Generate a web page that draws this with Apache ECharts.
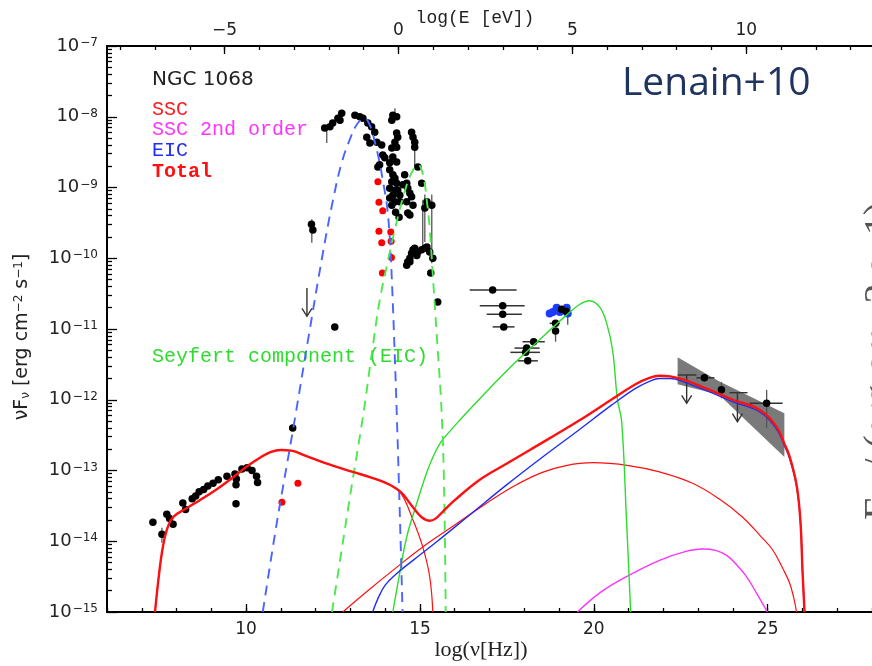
<!DOCTYPE html>
<html>
<head>
<meta charset="utf-8">
<script src="https://cdn.jsdelivr.net/npm/echarts/dist/echarts.min.js"></script>
<style>
html,body{margin:0;padding:0;background:#fff;}
#chart{width:872px;height:666px;}
</style>
</head>
<body>
<div id="chart"></div>
<script>
// ---------- axes ----------
const E_SHIFT = 14.383;              // log(E[eV]) = log(nu[Hz]) - 14.383
const xMin = 6, xMax = 28, yMin = -15, yMax = -7;
const bottomLabels = [10, 15, 20, 25];
const topLabels = [-5, 0, 5, 10];
const xMinorTicks = [];
for (let v = 6; v <= 28; v++) xMinorTicks.push(v);
const topMinorTicks = [];
for (let v = -8; v <= 13; v++) topMinorTicks.push(v);
const yMinorTicks = [];
for (let d = -15; d < -7; d++) for (let k = 2; k <= 9; k++) yMinorTicks.push(d + Math.log10(k));

// ---------- model curves: [log nu, log nuFnu] ----------
const totalCurve = [
  [7.38,-15],[7.5,-14.45],[7.6,-14.1],[7.72,-13.84],[7.9,-13.66],[8.3,-13.53],[8.67,-13.42],[9.2,-13.25],
  [9.62,-13.1],[10.0,-12.95],[10.4,-12.82],[10.7,-12.74],[11.0,-12.71],[11.3,-12.72],[11.7,-12.79],
  [12.3,-12.9],[13.07,-13.02],[13.6,-13.1],[14.05,-13.18],[14.3,-13.25],[14.5,-13.33],[14.8,-13.52],
  [15.05,-13.66],[15.28,-13.71],[15.45,-13.68],[15.66,-13.58],[16.0,-13.42],[16.72,-13.13],[17.5,-12.9],
  [18.16,-12.71],[19.59,-12.29],[20.5,-12.0],[21.2,-11.78],[21.6,-11.69],[21.89,-11.66],[22.2,-11.67],
  [22.6,-11.72],[23.33,-11.86],[24.0,-12.0],[24.76,-12.14],[25.25,-12.38],[25.48,-12.62],[25.63,-12.8],
  [25.83,-13.2],[25.94,-13.7],[26.0,-14.4],[26.06,-15]
];
const synchCurve = [
  [7.38,-15],[7.5,-14.45],[7.6,-14.1],[7.72,-13.84],[7.9,-13.66],[8.3,-13.53],[8.67,-13.42],[9.2,-13.25],
  [9.62,-13.1],[10.0,-12.95],[10.4,-12.82],[10.7,-12.74],[11.0,-12.71],[11.3,-12.72],[11.7,-12.79],
  [12.3,-12.9],[13.07,-13.02],[13.6,-13.1],[14.05,-13.19],[14.42,-13.3],[14.8,-13.7],[15.08,-14.08],
  [15.28,-14.5],[15.37,-15]
];
const sscCurve = [
  [12.78,-15],[13.5,-14.7],[14.3,-14.38],[15.08,-14.08],[16.0,-13.77],[16.8,-13.5],[17.67,-13.23],
  [18.5,-13.03],[19.2,-12.93],[19.97,-12.89],[21.0,-12.93],[21.89,-13.02],[22.84,-13.18],[23.6,-13.4],
  [24.28,-13.66],[24.8,-13.93],[25.14,-14.12],[25.45,-14.4],[25.63,-14.59],[25.75,-14.8],[25.83,-15]
];
const ssc2Curve = [
  [19.53,-15],[20.2,-14.72],[20.94,-14.5],[21.89,-14.27],[22.6,-14.15],[23.13,-14.11],[23.5,-14.13],
  [23.82,-14.2],[24.1,-14.33],[24.39,-14.5],[24.7,-14.75],[24.99,-15]
];
const eicCurve = [
  [13.64,-15],[13.8,-14.8],[14.0,-14.62],[14.3,-14.47],[14.8,-14.27],[15.5,-14.0],[16.5,-13.6],
  [17.5,-13.2],[18.5,-12.82],[19.59,-12.42],[20.5,-12.08],[21.2,-11.84],[21.6,-11.74],[21.89,-11.7],
  [22.2,-11.7],[22.6,-11.75],[23.33,-11.89],[24.0,-12.03],[24.76,-12.17],[25.25,-12.41],[25.48,-12.65],
  [25.63,-12.83],[25.83,-13.22],[25.94,-13.72],[26.0,-14.42],[26.06,-15]
];
const eicDashCurve = [
  [10.48,-15],[10.88,-13.75],[11.34,-12.45],[11.8,-11.1],[12.2,-9.95],[12.49,-9.2],[12.75,-8.65],
  [13.0,-8.3],[13.2,-8.1],[13.4,-8.02],[13.56,-8.12],[13.7,-8.35],[13.84,-8.65],[13.95,-8.95],
  [14.05,-9.25],[14.13,-9.7],[14.2,-10.4],[14.27,-11.3],[14.34,-12.3],[14.42,-13.6],[14.5,-15]
];
const seyDashCurve = [
  [12.47,-15],[12.75,-14.12],[13.0,-13.33],[13.36,-12.24],[13.6,-11.4],[13.84,-10.6],[14.05,-10.1],
  [14.3,-9.55],[14.55,-9.08],[14.75,-8.8],[14.95,-8.68],[15.1,-8.85],[15.2,-9.2],[15.28,-9.57],
  [15.37,-10.24],[15.48,-11.06],[15.63,-12.24],[15.7,-13.4],[15.74,-15]
];
const seyCurve = [
  [14.22,-15],[14.4,-14.5],[14.62,-13.94],[14.91,-13.46],[15.2,-13.02],[15.4,-12.78],[15.6,-12.6],
  [15.85,-12.45],[16.14,-12.29],[16.5,-12.1],[17.0,-11.84],[17.58,-11.55],[18.4,-11.17],[19.22,-10.8],
  [19.6,-10.65],[19.88,-10.6],[20.17,-10.69],[20.37,-10.92],[20.54,-11.3],[20.68,-12.0],[20.8,-12.3],
  [20.94,-13.7],[21.06,-15]
];

// ---------- data points ----------
const blackPts = [
  [7.32,-13.73],[7.58,-13.9],[7.72,-13.62],[7.8,-13.68],[7.9,-13.76],[8.18,-13.46],[8.26,-13.55],
  [8.45,-13.4],[8.55,-13.36],[8.65,-13.3],[8.78,-13.27],[8.9,-13.22],[9.05,-13.18],[9.2,-13.13],
  [9.45,-13.08],[9.68,-13.05],[9.72,-13.12],[9.71,-13.2],[9.71,-13.47],[9.88,-12.98],[10.03,-12.96],
  [10.17,-13.0],[10.3,-13.08],[10.33,-13.17],
  [11.34,-12.4],[11.88,-9.52],[11.92,-9.6],[12.55,-10.97],
  [12.26,-8.16],[12.41,-8.14],[12.49,-8.09],[12.64,-8.02],[12.75,-7.95],[12.7,-8.05],
  [13.13,-7.98],[13.27,-8.0],[13.36,-8.02],[13.5,-8.09],[13.61,-8.14],[13.47,-8.29],[13.56,-8.37],
  [13.7,-8.22],[13.76,-8.36],[13.9,-8.4],[13.93,-8.54],[13.99,-8.58],[13.84,-8.68],[13.79,-8.71],
  [14.22,-7.98],[14.33,-8.0],[14.19,-8.05],
  [14.33,-8.23],[14.36,-8.29],[14.28,-8.36],[14.33,-8.43],[14.19,-8.44],[14.22,-8.57],[14.13,-8.65],
  [14.33,-8.64],[14.13,-8.75],[14.22,-8.82],[14.28,-8.87],[14.19,-8.92],[14.33,-8.94],[14.13,-9.01],
  [14.28,-9.04],[14.36,-9.04],[14.22,-9.11],[14.42,-9.11],[14.13,-9.15],[14.28,-9.2],[14.19,-9.25],
  [14.42,-9.2],[14.51,-8.96],[14.62,-8.94],[14.65,-9.01],[14.71,-9.08],[14.76,-9.13],[14.62,-9.2],
  [14.8,-9.25],[14.65,-9.36],[14.71,-9.39],[14.56,-8.82],[14.3,-9.35],[14.4,-9.42],
  [14.76,-8.22],[14.8,-8.29],[14.85,-8.36],[14.85,-8.43],[14.94,-8.71],[15.05,-8.94],[15.2,-9.2],
  [15.14,-9.29],[15.34,-9.25],[15.37,-10.0],[15.28,-9.91],
  [14.62,-10.1],[14.65,-10.05],[14.71,-10.0],[14.76,-9.93],[14.8,-9.88],[14.85,-9.86],[14.94,-9.91],
  [15.05,-9.88],[15.14,-9.86],[15.2,-9.84],[14.91,-9.96],[14.71,-10.05],
  [15.31,-10.21],[15.51,-10.62],
  [19.07,-10.72],[19.2,-10.75],
  [23.18,-11.69],[23.67,-11.86],[24.97,-12.05]
];
const redPts = [
  [11.03,-13.45],[11.49,-13.18],[13.79,-8.92],[13.82,-9.21],[13.93,-9.33],[13.82,-9.62],[13.9,-9.78],
  [13.92,-10.21],[14.16,-9.63],[14.17,-9.76],[14.18,-9.99]
];
const bluePts = [
  [18.73,-10.78],[18.82,-10.76],[18.93,-10.7],[19.02,-10.76],[19.1,-10.74],[19.22,-10.7],[19.25,-10.78]
];
// X-ray points with horizontal bars: [log nu, log nuFnu, lo, hi]
const xrayPts = [
  [17.09,-10.45,16.43,17.78],[17.38,-10.67,16.72,18.01],[17.38,-10.79,16.92,17.93],[17.41,-10.97,17.09,17.72],
  [18.27,-11.18,17.95,18.59],[18.07,-11.27,17.72,18.44],[18.04,-11.33,17.6,18.45],[18.1,-11.45,17.81,18.39],
  [18.9,-10.92,18.73,19.02],[18.9,-11.03,18.9,18.9]
];
// horizontal bars: [log nuFnu, lo, hi]
const hBars = [
  [-11.69,22.95,23.47],[-12.05,24.48,25.43],[-10.72,18.85,19.3]
];
// vertical bars: [log nu, lo, hi]
const vBars = [
  [7.58,-13.81,-14.02],[11.89,-9.45,-9.78],[12.32,-8.16,-8.37],[14.28,-7.88,-8.05],[14.85,-8.36,-8.71],
  [15.08,-9.18,-9.84],[15.34,-9.1,-10.07],[15.14,-9.1,-9.77],[18.9,-11.03,-11.18],[19.25,-10.7,-10.94],
  [23.67,-11.75,-11.98],[24.97,-11.86,-12.4],[23.18,-11.64,-11.74]
];
// upper limits: [log nu, top, arrow tip, bar lo, bar hi]
const upperLimits = [
  [11.75,-10.42,-10.82,11.75,11.75],
  [22.67,-11.65,-12.05,22.41,22.95],
  [24.13,-11.9,-12.31,23.9,24.42]
];
// Fermi bow-tie outline
const bowtie = [
  [22.41,-11.4],[23.6,-11.74],[25.48,-12.19],[25.48,-12.81],[23.6,-11.93],[22.41,-11.78]
];

const MINUS = '\u2212';
const RED = '#ff1010', BLUE = '#1f2ff0', GREEN = '#2edc2e', MAG = '#ff33ff';

const chart = echarts.init(document.getElementById('chart'), null, {renderer: 'canvas'});

function lineSeries(data, color, width, dashed) {
  return {
    type: 'line', data: data, xAxisIndex: 0, yAxisIndex: 0, showSymbol: false, symbol: 'none',
    smooth: 0.4, silent: true, animation: false,
    lineStyle: {color: color, width: width, type: dashed ? [10, 7] : 'solid'}
  };
}

const axisLineStyle = {color: '#000', width: 2};
const tickStyle = {color: '#000', width: 1.3};
const labelFont = {fontFamily: 'DejaVu Sans', fontSize: 17, color: '#222'};

const option = {
  animation: false,
  backgroundColor: '#fff',
  grid: {left: 107, top: 46, width: 766, height: 566, containLabel: false},
  xAxis: [
    {type: 'value', min: xMin, max: xMax, position: 'bottom', gridIndex: 0,
     axisLine: {show: true, onZero: false, lineStyle: axisLineStyle},
     axisTick: {show: true, inside: true, length: 4, customValues: xMinorTicks, lineStyle: tickStyle},
     axisLabel: Object.assign({customValues: bottomLabels, margin: 9}, labelFont),
     splitLine: {show: false}},
    {type: 'value', min: xMin, max: xMax, position: 'bottom', gridIndex: 0,
     axisLine: {show: false, onZero: false},
     axisTick: {show: true, inside: true, length: 8, customValues: bottomLabels, lineStyle: tickStyle},
     axisLabel: {show: false}, splitLine: {show: false}},
    {type: 'value', min: xMin - E_SHIFT, max: xMax - E_SHIFT, position: 'top', gridIndex: 0,
     axisLine: {show: true, onZero: false, lineStyle: axisLineStyle},
     axisTick: {show: true, inside: true, length: 4, customValues: topMinorTicks, lineStyle: tickStyle},
     axisLabel: Object.assign({customValues: topLabels, margin: 7,
       formatter: v => (v < 0 ? MINUS + Math.abs(v) : String(v))}, labelFont),
     splitLine: {show: false}},
    {type: 'value', min: xMin - E_SHIFT, max: xMax - E_SHIFT, position: 'top', gridIndex: 0,
     axisLine: {show: false, onZero: false},
     axisTick: {show: true, inside: true, length: 8, customValues: topLabels, lineStyle: tickStyle},
     axisLabel: {show: false}, splitLine: {show: false}}
  ],
  yAxis: [
    {type: 'value', min: yMin, max: yMax, interval: 1, position: 'left', gridIndex: 0,
     axisLine: {show: true, onZero: false, lineStyle: axisLineStyle},
     axisTick: {show: true, inside: true, length: 10, lineStyle: tickStyle},
     axisLabel: {margin: 9,
       formatter: v => '{b|10}{s|' + MINUS + Math.abs(v) + '}',
       rich: {
         b: {fontFamily: 'DejaVu Sans', fontSize: 18, color: '#222'},
         s: {fontFamily: 'DejaVu Sans', fontSize: 12, color: '#222', verticalAlign: 'top', padding: [0, 0, 0, 1]}
       }},
     splitLine: {show: false}},
    {type: 'value', min: yMin, max: yMax, position: 'left', gridIndex: 0,
     axisLine: {show: false, onZero: false},
     axisTick: {show: true, inside: true, length: 5, customValues: yMinorTicks, lineStyle: tickStyle},
     axisLabel: {show: false}, splitLine: {show: false}}
  ],
  series: [
    {type: 'custom', xAxisIndex: 0, yAxisIndex: 0, data: bowtie, encode: {x: 0, y: 1}, silent: true,
     renderItem: function (params, api) {
       if (params.dataIndex !== 0) return null;
       const pts = bowtie.map(p => api.coord(p));
       return {type: 'polygon', shape: {points: pts}, style: {fill: '#7a7a7a'}};
     }},
    lineSeries(synchCurve, RED, 1.2, false),
    lineSeries(sscCurve, RED, 1.2, false),
    lineSeries(ssc2Curve, MAG, 1.4, false),
    lineSeries(seyCurve, GREEN, 1.4, false),
    lineSeries(eicCurve, BLUE, 1.4, false),
    lineSeries(eicDashCurve, '#4a64ff', 1.9, true),
    lineSeries(seyDashCurve, '#4ee84e', 1.9, true),
    lineSeries(totalCurve, RED, 2.4, false),
    {type: 'custom', xAxisIndex: 0, yAxisIndex: 0, data: xrayPts, encode: {x: [0, 2, 3], y: 1}, silent: true,
     renderItem: function (params, api) {
       const y = api.value(1);
       const a = api.coord([api.value(2), y]), b = api.coord([api.value(3), y]);
       return {type: 'line', shape: {x1: a[0], y1: a[1], x2: b[0], y2: b[1]}, style: {stroke: '#333', lineWidth: 1.5}};
     }},
    {type: 'custom', xAxisIndex: 0, yAxisIndex: 0, data: hBars, encode: {x: [1, 2], y: 0}, silent: true,
     renderItem: function (params, api) {
       const y = api.value(0);
       const a = api.coord([api.value(1), y]), b = api.coord([api.value(2), y]);
       return {type: 'line', shape: {x1: a[0], y1: a[1], x2: b[0], y2: b[1]}, style: {stroke: '#333', lineWidth: 1.5}};
     }},
    {type: 'custom', xAxisIndex: 0, yAxisIndex: 0, data: vBars, encode: {x: 0, y: [1, 2]}, silent: true,
     renderItem: function (params, api) {
       const x = api.value(0);
       const a = api.coord([x, api.value(1)]), b = api.coord([x, api.value(2)]);
       return {type: 'line', shape: {x1: a[0], y1: a[1], x2: b[0], y2: b[1]}, style: {stroke: '#555', lineWidth: 1.3}};
     }},
    {type: 'custom', xAxisIndex: 0, yAxisIndex: 0, data: upperLimits, encode: {x: [0, 3, 4], y: [1, 2]}, silent: true,
     renderItem: function (params, api) {
       const x = api.value(0);
       const t = api.coord([x, api.value(1)]), tip = api.coord([x, api.value(2)]);
       const children = [
         {type: 'line', shape: {x1: t[0], y1: t[1], x2: tip[0], y2: tip[1]}, style: {stroke: '#333', lineWidth: 1.4}},
         {type: 'polyline', shape: {points: [[tip[0] - 5, tip[1] - 8], [tip[0], tip[1]], [tip[0] + 5, tip[1] - 8]]},
          style: {stroke: '#333', lineWidth: 1.4, fill: null}}
       ];
       if (api.value(4) > api.value(3)) {
         const a = api.coord([api.value(3), api.value(1)]), b = api.coord([api.value(4), api.value(1)]);
         children.push({type: 'line', shape: {x1: a[0], y1: a[1], x2: b[0], y2: b[1]}, style: {stroke: '#333', lineWidth: 1.4}});
       }
       return {type: 'group', children: children};
     }},
    {type: 'scatter', xAxisIndex: 0, yAxisIndex: 0, data: bluePts, symbol: 'circle', symbolSize: 8,
     itemStyle: {color: '#1a3cff', opacity: 1}, silent: true},
    {type: 'scatter', xAxisIndex: 0, yAxisIndex: 0, data: blackPts.concat(xrayPts.map(p => [p[0], p[1]])),
     symbol: 'circle', symbolSize: 7.5, itemStyle: {color: '#000', opacity: 1}, silent: true},
    {type: 'scatter', xAxisIndex: 0, yAxisIndex: 0, data: redPts, symbol: 'circle', symbolSize: 7,
     itemStyle: {color: '#ff0000', opacity: 1}, silent: true}
  ],
  graphic: [
    {type: 'text', left: 152, top: 70, style: {text: 'NGC 1068', font: '20px "DejaVu Sans"', fill: '#222'}},
    {type: 'text', left: 152, top: 100, style: {text: 'SSC', font: '20px "Liberation Mono"', fill: '#ff1a1a'}},
    {type: 'text', left: 152, top: 120, style: {text: 'SSC 2nd order', font: '20px "Liberation Mono"', fill: '#ff33ff'}},
    {type: 'text', left: 152, top: 141, style: {text: 'EIC', font: '20px "Liberation Mono"', fill: '#1f2ff0'}},
    {type: 'text', left: 152, top: 162, style: {text: 'Total', font: 'bold 20px "Liberation Mono"', fill: '#ff1010'}},
    {type: 'text', left: 152, top: 347, style: {text: 'Seyfert component (EIC)', font: '20px "Liberation Mono"', fill: '#2edc2e'}},
    {type: 'text', left: 622, top: 64, style: {text: 'Lenain+10', font: '39px "Open Sans"', fill: '#1f3560'}},
    {type: 'text', x: 475, y: 18, style: {text: 'log(E [eV])', font: '18px "Liberation Mono"', fill: '#222',
      textAlign: 'center', textVerticalAlign: 'middle'}},
    {type: 'text', x: 481, y: 650, style: {text: 'log(\u03bd[Hz])', font: '22px "Liberation Serif"', fill: '#222',
      textAlign: 'center', textVerticalAlign: 'middle'}},
    {type: 'text', x: 22, y: 337, rotation: Math.PI / 2,
     style: {text: '\u03bdF{sub|\u03bd} [erg cm{sup|' + MINUS + '2} s{sup|' + MINUS + '1}]',
       font: '19px "DejaVu Sans"', fill: '#222', textAlign: 'center', textVerticalAlign: 'middle',
       rich: {sub: {fontSize: 12, fontFamily: 'DejaVu Sans', fill: '#222', verticalAlign: 'bottom'},
              sup: {fontSize: 12, fontFamily: 'DejaVu Sans', fill: '#222', verticalAlign: 'top'}}}},
    {type: 'text', x: 880, y: 370, rotation: Math.PI / 2,
     style: {text: '\u03bdF\u03bd / (erg cm' + MINUS + '2 s' + MINUS + '1)', font: '40px "Liberation Serif"', fill: '#555',
       textAlign: 'center', textVerticalAlign: 'middle'}}
  ]
};
chart.setOption(option);
</script>
</body>
</html>
